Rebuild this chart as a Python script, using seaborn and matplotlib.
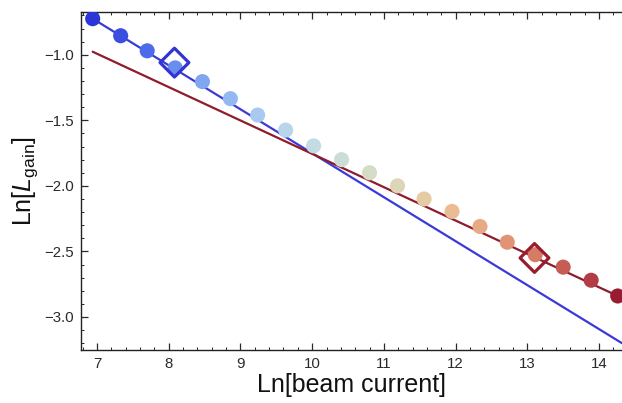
import matplotlib
matplotlib.use("Agg")
import matplotlib.pyplot as plt
import seaborn as sns
import pandas as pd
from matplotlib.ticker import MultipleLocator

# ---- data ----
ln_current = [6.94, 7.33, 7.70, 8.09, 8.47, 8.86, 9.24, 9.63, 10.02, 10.41,
              10.80, 11.19, 11.56, 11.95, 12.34, 12.72, 13.11, 13.50, 13.89, 14.26]
ln_gain = [-0.725, -0.855, -0.97, -1.10, -1.205, -1.335, -1.46, -1.575, -1.695, -1.80,
           -1.90, -2.00, -2.10, -2.195, -2.31, -2.43, -2.525, -2.62, -2.72, -2.84]
point_colors = ["#2a36d6", "#3a4ee0", "#4d6ae8", "#6a8eee", "#7ea6f1", "#94b9f2",
                "#a8c9f0", "#b8d5ec", "#c3dce4", "#cbddd4", "#d5dcc6", "#ddd6b6",
                "#e5cba4", "#e9bc94", "#e8a985", "#e29375", "#d77b65", "#c65c56",
                "#b23d46", "#981b31"]

blue_fit_x = [6.94, 14.32]
blue_fit_y = [-0.725, -3.20]
red_fit_x = [6.94, 14.32]
red_fit_y = [-0.977, -2.855]

blue_marker_x = [8.08]
blue_marker_y = [-1.06]
red_marker_x = [13.10]
red_marker_y = [-2.55]

xlabel = "Ln[beam current]"
ylabel = r"Ln[$\mathit{L}_{\mathrm{gain}}$]"

# ---- style ----
sns.set_theme(style="white")
plt.rcParams["font.family"] = ["Liberation Sans", "DejaVu Sans"]
plt.rcParams["mathtext.fontset"] = "custom"
plt.rcParams["mathtext.rm"] = "Liberation Sans"
plt.rcParams["mathtext.it"] = "Liberation Sans:italic"

fig = plt.figure(figsize=(6.22, 4.03), dpi=100)
ax = fig.add_axes([81 / 622, 1 - 350 / 403, 1 - 81 / 622, (350 - 12) / 403])

df = pd.DataFrame({"x": ln_current, "y": ln_gain, "idx": range(len(ln_current))})

sns.lineplot(x=blue_fit_x, y=blue_fit_y, ax=ax, color="#3a3ad6", linewidth=1.6)
sns.lineplot(x=red_fit_x, y=red_fit_y, ax=ax, color="#8e1c2c", linewidth=1.6)

sns.scatterplot(data=df, x="x", y="y", hue="idx", palette=point_colors,
                s=118, linewidth=0, legend=False, ax=ax, zorder=3)

sns.scatterplot(x=blue_marker_x, y=blue_marker_y, marker="D", s=215,
                facecolor="none", edgecolor="#3434d0", linewidth=2.3, ax=ax, zorder=4)
sns.scatterplot(x=red_marker_x, y=red_marker_y, marker="D", s=215,
                facecolor="none", edgecolor="#981c2e", linewidth=2.3, ax=ax, zorder=4)

ax.set_xlim(6.777, 14.32)
ax.set_ylim(-3.252, -0.674)

ax.xaxis.set_major_locator(MultipleLocator(1))
ax.xaxis.set_minor_locator(MultipleLocator(0.2))
ax.yaxis.set_major_locator(MultipleLocator(0.5))
ax.yaxis.set_minor_locator(MultipleLocator(0.1))

ax.tick_params(which="both", direction="in", top=True, bottom=True, left=True, right=False,
               colors="#2a2a2a", labelsize=10.8)
ax.tick_params(which="major", length=5, width=0.9, pad=5)
ax.tick_params(which="minor", length=2.5, width=0.7)
ax.tick_params(axis="x", labeltop=False)

for side in ["left", "bottom", "top"]:
    ax.spines[side].set_visible(True)
    ax.spines[side].set_color("#222222")
    ax.spines[side].set_linewidth(1.0)
ax.spines["right"].set_visible(False)

ax.set_xlabel(xlabel, fontsize=18, color="#111111")
ax.set_ylabel(ylabel, fontsize=18, color="#111111")
ax.xaxis.set_label_coords(0.5, -0.068)
ax.yaxis.set_label_coords(-0.076, 0.50)

ax.grid(False)
fig.savefig("out.png", dpi=100)
